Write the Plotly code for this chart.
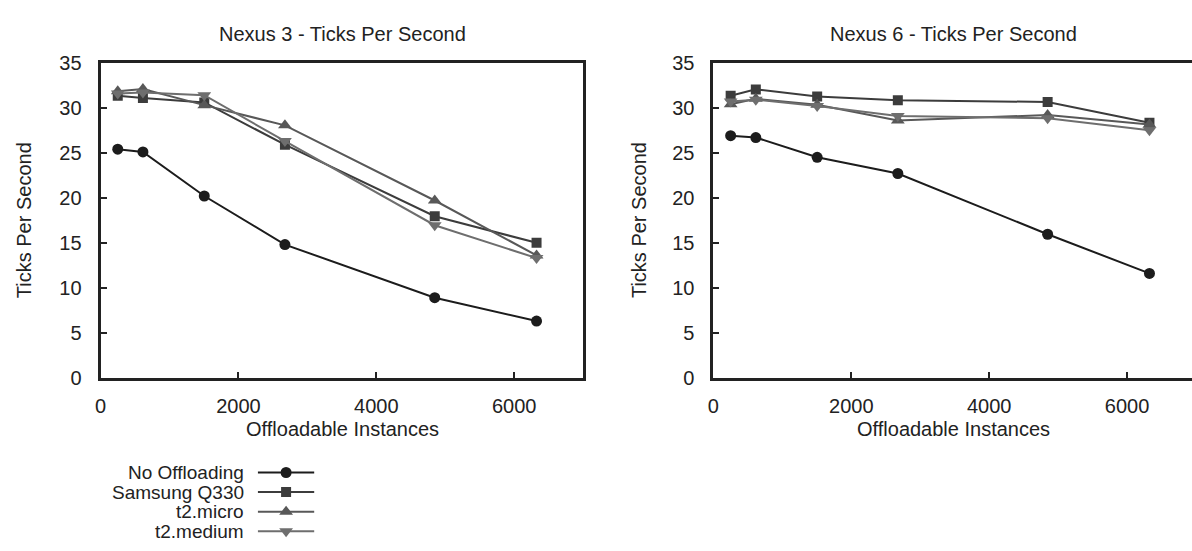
import plotly.graph_objects as go

# ---------------- data ----------------
instances = [250, 615, 1505, 2675, 4848, 6325]
series_names = ["No Offloading", "Samsung Q330", "t2.micro", "t2.medium"]

nexus3_no_offloading = [25.4, 25.1, 20.2, 14.8, 8.9, 6.3]
nexus3_samsung = [31.35, 31.1, 30.6, 25.9, 17.95, 15.0]
nexus3_micro = [31.85, 32.1, 30.3, 28.05, 19.7, 13.6]
nexus3_medium = [31.6, 31.7, 31.4, 26.3, 16.95, 13.3]

nexus6_no_offloading = [26.9, 26.7, 24.5, 22.7, 15.95, 11.6]
nexus6_samsung = [31.35, 32.05, 31.25, 30.85, 30.65, 28.35]
nexus6_micro = [30.4, 31.0, 30.35, 28.6, 29.2, 28.15]
nexus6_medium = [30.7, 30.9, 30.2, 29.1, 28.85, 27.5]

panel_titles = ["Nexus 3 - Ticks Per Second", "Nexus 6 - Ticks Per Second"]
x_title = "Offloadable Instances"
y_title = "Ticks Per Second"
x_ticks = [0, 2000, 4000, 6000]
y_ticks = [0, 5, 10, 15, 20, 25, 30, 35]

# ---------------- style ----------------
W, H = 1192, 551
FONT = "Liberation Sans, Arial, Helvetica, sans-serif"
INK = "#222222"
colors = ["#1c1c1c", "#3c3c3c", "#585858", "#6e6e6e"]
symbols = ["circle", "square", "triangle-up", "triangle-down"]
sizes = [11, 10, 12, 12]


def px(x):
    return x / W


def py(y):
    return 1 - y / H


fig = go.Figure()

panels = [
    ("x", "y", [nexus3_no_offloading, nexus3_samsung, nexus3_micro, nexus3_medium]),
    ("x2", "y2", [nexus6_no_offloading, nexus6_samsung, nexus6_micro, nexus6_medium]),
]
for xa, ya, data in panels:
    for name, vals, c, s, sz in zip(series_names, data, colors, symbols, sizes):
        fig.add_trace(go.Scatter(
            x=instances, y=vals, name=name, mode="lines+markers",
            line=dict(color=c, width=2),
            marker=dict(symbol=s, size=sz, color=c, line=dict(width=0)),
            xaxis=xa, yaxis=ya, showlegend=False,
        ))

# manual legend (text on the left, sample on the right), on a helper axis
for i, (name, c, s, sz) in enumerate(zip(series_names, colors, symbols, sizes)):
    fig.add_trace(go.Scatter(x=[0, 1], y=[i, i], mode="lines",
                             line=dict(color=c, width=2), xaxis="x3", yaxis="y3",
                             showlegend=False, hoverinfo="skip"))
    fig.add_trace(go.Scatter(x=[0.5], y=[i], mode="markers",
                             marker=dict(symbol=s, size=sz, color=c, line=dict(width=0)),
                             xaxis="x3", yaxis="y3", showlegend=False, hoverinfo="skip"))

axis_common = dict(
    showgrid=False, zeroline=False, showline=True, linecolor=INK, linewidth=3,
    ticks="inside", ticklen=6, tickwidth=1.5, tickcolor=INK,
    tickfont=dict(family=FONT, size=20, color=INK),
)

x_range_left = [0, 7000]
px_per_unit = (580 - 95) / 7000
x_range_right = [0, (W - 711) / px_per_unit]

fig.update_layout(
    width=W, height=H,
    margin=dict(l=0, r=0, t=0, b=0),
    paper_bgcolor="white", plot_bgcolor="white",
    font=dict(family=FONT, size=20, color=INK),
    xaxis=dict(domain=[px(95), px(580)], range=x_range_left, tickvals=x_ticks,
               anchor="y", mirror=True, ticklabelstandoff=8, **axis_common),
    yaxis=dict(domain=[py(382), py(54)], range=[0, 35], tickvals=y_ticks,
               anchor="x", mirror=True, ticklabelstandoff=12, **axis_common),
    xaxis2=dict(domain=[px(711), 1.0], range=x_range_right, tickvals=x_ticks,
                anchor="y2", mirror=True, ticklabelstandoff=8, **axis_common),
    yaxis2=dict(domain=[py(382), py(54)], range=[0, 35], tickvals=y_ticks,
                anchor="x2", mirror=False, ticklabelstandoff=12, **axis_common),
    xaxis3=dict(domain=[px(253), px(310)], range=[0, 1], visible=False, anchor="y3"),
    yaxis3=dict(domain=[0, py(470.5)], range=[3.45, -0.5], visible=False, anchor="x3"),
)

annotations = []
for title, cx in zip(panel_titles, [338, 952]):
    annotations.append(dict(text=title, x=px(cx), y=py(24), xref="paper", yref="paper",
                            showarrow=False, xanchor="center", yanchor="middle",
                            font=dict(family=FONT, size=20, color=INK)))
    annotations.append(dict(text=x_title, x=px(cx), y=py(435), xref="paper", yref="paper",
                            showarrow=False, xanchor="center", yanchor="middle",
                            font=dict(family=FONT, size=20, color=INK)))
for cx in [18, 636]:
    annotations.append(dict(text=y_title, x=px(cx), y=py(218), xref="paper", yref="paper",
                            showarrow=False, xanchor="center", yanchor="middle", textangle=-90,
                            font=dict(family=FONT, size=20, color=INK)))
for i, name in enumerate(series_names):
    annotations.append(dict(text=name, x=px(240), y=i, xref="paper", yref="y3",
                            showarrow=False, xanchor="right", yanchor="middle",
                            borderpad=0,
                            font=dict(family=FONT, size=19, color=INK)))
fig.update_layout(annotations=annotations)

# remove the default 8px page margin so the figure sits at the window's top-left corner
fig.write_html(
    "out.html",
    config={"displayModeBar": False},
    post_script="document.body.style.margin='0px';document.body.style.overflow='hidden';",
)
